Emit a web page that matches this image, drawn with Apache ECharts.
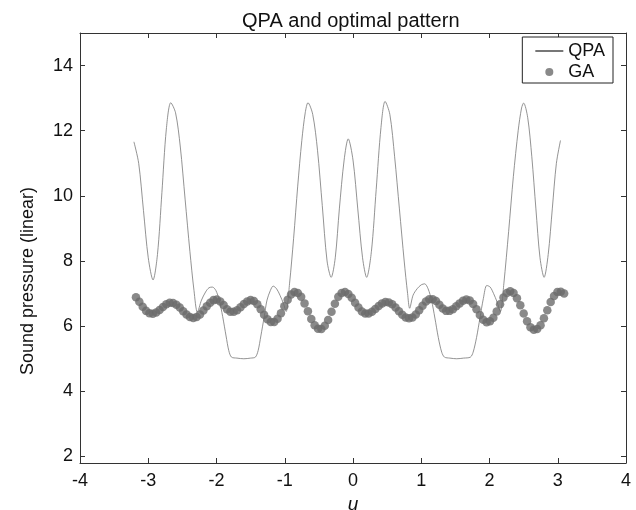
<!DOCTYPE html>
<html>
<head>
<meta charset="utf-8">
<script src="https://cdn.jsdelivr.net/npm/echarts@6/dist/echarts.min.js"></script>
<style>html,body{margin:0;padding:0;background:#fff;}#c{width:636px;height:510px;}</style>
</head>
<body>
<div id="c"></div>
<script>
// ---- data ----
var qpaU = [-3.21,-3.14,-3.07,-3.00,-2.93,-2.865,-2.80,-2.735,-2.67,-2.60,-2.53,-2.46,-2.39,-2.33,-2.28,-2.22,-2.16,-2.11,-2.06,-2.01,-1.96,-1.91,-1.86,-1.82,-1.78,-1.70,-1.60,-1.50,-1.43,-1.39,-1.35,-1.30,-1.26,-1.21,-1.17,-1.12,-1.07,-1.02,-0.98,-0.93,-0.87,-0.81,-0.75,-0.70,-0.66,-0.59,-0.52,-0.45,-0.38,-0.32,-0.26,-0.20,-0.13,-0.07,0.00,0.07,0.14,0.20,0.27,0.34,0.41,0.47,0.54,0.61,0.68,0.75,0.80,0.83,0.88,0.94,1.00,1.05,1.10,1.15,1.20,1.25,1.30,1.34,1.42,1.52,1.62,1.72,1.76,1.81,1.86,1.91,1.96,2.01,2.06,2.11,2.16,2.21,2.28,2.35,2.42,2.47,2.50,2.56,2.62,2.68,2.74,2.80,2.86,2.92,2.98,3.04];
var qpaP = [11.66,11.0,9.55,8.1,7.42,8.2,10.1,12.05,12.86,12.55,11.5,9.9,8.3,7.1,6.43,6.8,7.05,7.18,7.2,7.1,6.8,6.3,5.7,5.25,5.05,5.02,5.0,5.02,5.05,5.25,5.7,6.3,6.8,7.1,7.23,7.15,6.95,6.7,6.45,7.3,8.7,10.3,11.7,12.55,12.86,12.5,11.4,9.7,8.0,7.5,8.1,9.6,11.1,11.75,11.1,9.6,8.1,7.5,8.3,10.2,12.1,12.9,12.5,11.2,9.6,8.0,7.0,6.55,6.95,7.15,7.27,7.3,7.15,6.8,6.25,5.65,5.2,5.05,5.02,5.0,5.02,5.05,5.2,5.65,6.25,6.85,7.25,7.2,7.0,6.75,6.45,7.3,8.9,10.6,12.0,12.7,12.85,12.4,11.2,9.6,8.1,7.5,8.2,9.6,11.0,11.7];

var gaStartU = -3.18;
var gaStepU = 0.0494;
var gaP = [6.89,6.75,6.60,6.47,6.40,6.38,6.42,6.50,6.59,6.67,6.72,6.71,6.66,6.57,6.46,6.36,6.28,6.25,6.28,6.36,6.48,6.61,6.72,6.80,6.82,6.76,6.65,6.52,6.44,6.44,6.49,6.58,6.68,6.76,6.80,6.77,6.67,6.52,6.35,6.21,6.13,6.13,6.23,6.40,6.61,6.81,6.97,7.05,7.02,6.90,6.70,6.46,6.22,6.03,5.92,5.91,6.01,6.19,6.44,6.69,6.90,7.02,7.05,6.99,6.87,6.72,6.57,6.45,6.39,6.39,6.44,6.53,6.62,6.70,6.74,6.73,6.67,6.57,6.46,6.35,6.27,6.24,6.27,6.36,6.49,6.63,6.76,6.83,6.83,6.77,6.66,6.54,6.47,6.47,6.52,6.61,6.70,6.78,6.82,6.79,6.68,6.52,6.34,6.20,6.12,6.15,6.26,6.45,6.67,6.88,7.02,7.07,7.02,6.86,6.64,6.39,6.15,5.97,5.89,5.91,6.03,6.24,6.49,6.74,6.93,7.05,7.06,7.00];

var xTicks = [-4,-3,-2,-1,0,1,2,3,4];
var yTicks = [2,4,6,8,10,12,14];
var titleText = 'QPA and optimal pattern';
var xName = 'u';
var yName = 'Sound pressure (linear)';
var seriesNames = ['QPA', 'GA'];

// ---- build ----
var qpaData = qpaU.map(function (u, i) { return [u, qpaP[i]]; });
var gaData = gaP.map(function (p, i) { return [+(gaStartU + i * gaStepU).toFixed(4), p]; });

var FONT = '"Liberation Sans", Arial, Helvetica, sans-serif';
var AX = '#333';

function xAx(pos, labels) {
  return {
    type: 'value', position: pos, min: xTicks[0], max: xTicks[xTicks.length - 1], interval: 1,
    axisLine: { show: true, onZero: false, lineStyle: { color: AX, width: 1 } },
    axisTick: { show: true, inside: true, length: 5, lineStyle: { color: AX } },
    axisLabel: { show: labels, fontSize: 18, color: '#111', margin: 9, fontFamily: FONT },
    splitLine: { show: false },
    name: labels ? xName : '', nameLocation: 'middle', nameGap: 29,
    nameTextStyle: { fontSize: 19, fontStyle: 'italic', color: '#111', fontFamily: FONT }
  };
}
function yAx(pos, labels) {
  return {
    type: 'value', position: pos, min: 1.8, max: 15,
    axisLine: { show: true, onZero: false, lineStyle: { color: AX, width: 1 } },
    axisTick: { show: true, inside: true, length: 5, lineStyle: { color: AX }, customValues: yTicks },
    axisLabel: { show: labels, fontSize: 18, color: '#111', margin: 7, fontFamily: FONT, customValues: yTicks },
    splitLine: { show: false }
  };
}

var chart = echarts.init(document.getElementById('c'), null, { renderer: 'canvas' });
chart.setOption({
  backgroundColor: '#fff',
  animation: false,
  title: {
    text: titleText, left: 237, top: 6,
    textStyle: { fontSize: 20, fontWeight: 'normal', color: '#111', fontFamily: FONT }
  },
  grid: { left: 80, right: 10, top: 33, bottom: 47, containLabel: false, outerBoundsMode: 'none' },
  xAxis: [xAx('bottom', true), xAx('top', false)],
  yAxis: [yAx('left', true), yAx('right', false)],
  legend: {
    data: [{ name: seriesNames[0], itemStyle: { opacity: 0 } }, { name: seriesNames[1] }],
    orient: 'vertical', align: 'left',
    right: 23, top: 37,
    itemWidth: 28, itemHeight: 8, itemGap: 3,
    padding: [5, 8, 2, 12],
    borderColor: '#222', borderWidth: 1, backgroundColor: '#fff',
    textStyle: { fontSize: 18, color: '#111', fontFamily: FONT }
  },
  graphic: [{
    type: 'text', x: 28, y: 281, rotation: Math.PI / 2,
    style: { text: yName, fontSize: 18, fill: '#111', fontFamily: FONT, align: 'center', verticalAlign: 'middle' }
  }],
  series: [
    {
      name: seriesNames[0], type: 'line', data: qpaData, xAxisIndex: 0, yAxisIndex: 0,
      symbol: 'none', smooth: 0.3,
      lineStyle: { color: '#777', width: 0.8 }, itemStyle: { color: '#777' }, z: 2
    },
    {
      name: seriesNames[1], type: 'scatter', data: gaData, xAxisIndex: 0, yAxisIndex: 0,
      symbol: 'circle', symbolSize: 8.5,
      itemStyle: { color: '#6c6c6c' }, z: 3
    }
  ]
});
</script>
</body>
</html>
